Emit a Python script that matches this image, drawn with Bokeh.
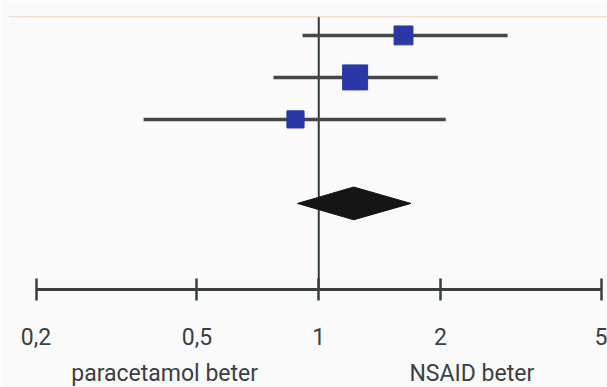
from bokeh.plotting import figure
from bokeh.models import FixedTicker, Span, LogAxis, ColumnDataSource
from bokeh.embed import file_html
from bokeh.resources import INLINE

# ---- data ----
study_rows = [6, 5, 4]
study_est = [1.62, 1.23, 0.876]
study_lo = [0.912, 0.773, 0.369]
study_hi = [2.93, 1.97, 2.06]
study_weight = [28, 49, 23]

pooled_row = 2
pooled_est = 1.22
pooled_lo = 0.886
pooled_hi = 1.69

tick_values = [0.2, 0.5, 1, 2, 5]
tick_labels = ["0,2", "0,5", "1", "2", "5"]
side_label_pos = [0.416, 2.39]
side_labels = ["paracetamol beter", "NSAID beter"]

BG = "#fafafa"
INK = "#3a3f42"
FONT = "Roboto"
AXIS_Y = -0.05      # where the x axis crosses (bottom of the plotting area)
Y_TOP = 6.45
Y_BOTTOM = -2.383   # page bottom, room for the labels

p = figure(width=607, height=387, x_axis_type="log",
           x_range=(0.1710, 5.174), y_range=(Y_BOTTOM, Y_TOP),
           y_axis_location=None, output_backend="svg", toolbar_location=None,
           min_border_left=8, min_border_right=0, min_border_top=16,
           min_border_bottom=0)
p.background_fill_color = BG
p.border_fill_color = BG
p.outline_line_color = None
p.grid.visible = False

# top thin line and reference line at 1
p.add_layout(Span(location=Y_TOP, dimension="width", line_color="#f3c4ae", line_width=1.5))
p.segment(x0=[1], y0=[AXIS_Y], x1=[1], y1=[Y_TOP], line_color="#2e3a40", line_width=2)

src = ColumnDataSource(dict(y=study_rows, est=study_est, lo=study_lo, hi=study_hi,
                            size=[3.57 * (w ** 0.5) for w in study_weight]))
p.segment(x0="lo", y0="y", x1="hi", y1="y", source=src, line_color="#444648", line_width=3.5)
p.scatter(x="est", y="y", size="size", marker="square", source=src,
          fill_color="#2a37a6", line_color="#2a37a6")

half_h = 0.39
p.patch(x=[pooled_lo, pooled_est, pooled_hi, pooled_est],
        y=[pooled_row, pooled_row + half_h, pooled_row, pooled_row - half_h],
        fill_color="#151515", line_color="#151515")

ax = p.xaxis[0]
ax.fixed_location = AXIS_Y
ax.ticker = FixedTicker(ticks=tick_values, minor_ticks=[])
ax.major_label_overrides = {v: t for v, t in zip(tick_values, tick_labels)}
ax.bounds = (tick_values[0], tick_values[-1])
ax.axis_line_color = INK
ax.axis_line_width = 3
ax.major_tick_line_color = INK
ax.major_tick_line_width = 2.5
ax.major_tick_in = 11
ax.major_tick_out = 11
ax.minor_tick_line_color = None
ax.major_label_standoff = 27
ax.major_label_text_font = FONT
ax.major_label_text_font_size = "23px"
ax.major_label_text_color = INK

ax2 = LogAxis(ticker=FixedTicker(ticks=side_label_pos, minor_ticks=[]),
              major_label_overrides={v: t for v, t in zip(side_label_pos, side_labels)},
              axis_line_color=None, major_tick_line_color=None, minor_tick_line_color=None,
              major_tick_in=0, major_tick_out=0, major_label_standoff=70,
              major_label_text_font=FONT, major_label_text_font_size="23px",
              major_label_text_color=INK, fixed_location=AXIS_Y)
p.add_layout(ax2, "below")

open("out.html", "w").write(file_html(p, INLINE))
